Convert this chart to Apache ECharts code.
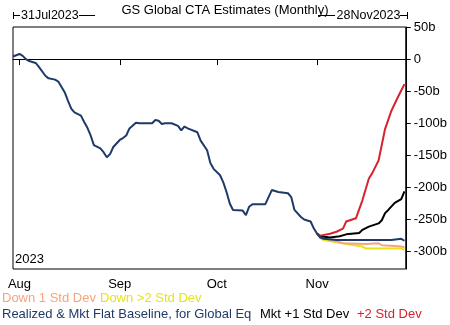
<!DOCTYPE html>
<html>
<head>
<meta charset="utf-8">
<script src="https://cdn.jsdelivr.net/npm/echarts@6/dist/echarts.min.js"></script>
<style>
  html, body { margin: 0; padding: 0; background: #fff; }
  #chart { width: 450px; height: 325px; }
</style>
</head>
<body>
<div id="chart"></div>
<script>
// realized path (navy)
const realizedDates = [
  '2023-07-30', '2023-07-31', '2023-08-01', '2023-08-02', '2023-08-03', '2023-08-04', '2023-08-06',
  '2023-08-07', '2023-08-09', '2023-08-10', '2023-08-12', '2023-08-13', '2023-08-15', '2023-08-16',
  '2023-08-17', '2023-08-18', '2023-08-20', '2023-08-21', '2023-08-22', '2023-08-23', '2023-08-24',
  '2023-08-26', '2023-08-27', '2023-08-28', '2023-08-29', '2023-08-30', '2023-09-01', '2023-09-02',
  '2023-09-03', '2023-09-04', '2023-09-06', '2023-09-07', '2023-09-11', '2023-09-12', '2023-09-13',
  '2023-09-14', '2023-09-15', '2023-09-17', '2023-09-19', '2023-09-20', '2023-09-21', '2023-09-22',
  '2023-09-25', '2023-09-26', '2023-09-28', '2023-09-29', '2023-09-30', '2023-10-02', '2023-10-03',
  '2023-10-04', '2023-10-05', '2023-10-06', '2023-10-09', '2023-10-10', '2023-10-11', '2023-10-12',
  '2023-10-16', '2023-10-17', '2023-10-18', '2023-10-20', '2023-10-23', '2023-10-24', '2023-10-25',
  '2023-10-27', '2023-10-28', '2023-10-30', '2023-10-31', '2023-11-01', '2023-11-02', '2023-11-03',
  '2023-11-07', '2023-11-16', '2023-11-24', '2023-11-27', '2023-11-28'
]
const realizedValues = [
  4, 6, 8, 5, 0, -3, -6,
  -12, -26, -30, -32, -35, -52, -65,
  -77, -83, -88, -98, -107, -119, -134,
  -139, -145, -153, -148, -137, -126, -123,
  -119, -108, -99, -100, -100, -95, -96,
  -101, -100, -100, -104, -111, -105, -108,
  -114, -127, -142, -162, -171, -181, -192,
  -207, -225, -235, -236, -243, -230, -226,
  -226, -215, -204, -207, -209, -215, -235,
  -246, -250, -253, -264, -272, -278, -280,
  -282, -282, -282, -280, -283
]

// scenario paths from 1 Nov
const up1Dates = ['2023-11-01', '2023-11-02', '2023-11-05', '2023-11-08', '2023-11-10', '2023-11-14', '2023-11-15', '2023-11-17', '2023-11-20', '2023-11-21', '2023-11-22', '2023-11-23', '2023-11-25', '2023-11-27', '2023-11-28']
const up1Values = [-272, -276, -278, -276, -273, -271, -266, -261, -256, -251, -240, -235, -224, -218, -206]

const up2Dates = ['2023-11-01', '2023-11-02', '2023-11-05', '2023-11-07', '2023-11-09', '2023-11-10', '2023-11-13', '2023-11-15', '2023-11-17', '2023-11-18', '2023-11-20', '2023-11-22', '2023-11-24', '2023-11-26', '2023-11-27', '2023-11-28']
const up2Values = [-272, -275, -272, -269, -264, -253, -248, -220, -186, -178, -158, -109, -80, -59, -49, -39]

const down1Dates = ['2023-11-01', '2023-11-02', '2023-11-07', '2023-11-09', '2023-11-16', '2023-11-20', '2023-11-21', '2023-11-25', '2023-11-27', '2023-11-28']
const down1Values = [-272, -278, -284, -287, -288, -287, -290, -291, -292, -293]

const down2Dates = ['2023-11-01', '2023-11-02', '2023-11-03', '2023-11-09', '2023-11-11', '2023-11-15', '2023-11-16', '2023-11-21', '2023-11-27', '2023-11-28']
const down2Values = [-272, -279, -282, -287, -289, -292, -295, -295, -295, -297]

const monthTicks = ['2023-08-01', '2023-09-01', '2023-10-01', '2023-11-01']
const monthLabels = ['Aug', 'Sep', 'Oct', 'Nov']
const yTicks = [50, 0, -50, -100, -150, -200, -250, -300]

const FONT = 'Liberation Sans, Arial, sans-serif'
const DAY = 24 * 3600 * 1000
const toTs = (s) => {
  const [y, m, d] = s.split('-').map(Number)
  return Date.UTC(y, m - 1, d)
}
const zip = (dates, vals) => dates.map((d, i) => [toTs(d), vals[i]])
const monthTs = monthTicks.map(toTs)

const chart = echarts.init(document.getElementById('chart'))

const line = (name, color, dates, vals, z) => ({
  name,
  type: 'line',
  data: zip(dates, vals),
  showSymbol: false,
  symbol: 'none',
  z,
  lineStyle: { color, width: 2 },
  itemStyle: { color },
})

const option = {
  animation: false,
  grid: {
    left: 13, right: 42, top: 27, bottom: 56,
    show: true, borderColor: '#000', borderWidth: 1,
  },
  xAxis: {
    type: 'value',
    min: toTs('2023-07-30'),
    max: toTs('2023-11-28') + 0.4 * DAY,
    splitLine: { show: false },
    axisLine: { lineStyle: { color: '#000' } },
    axisTick: { show: true, length: 6, lineStyle: { color: '#000' }, customValues: monthTs },
    axisLabel: {
      customValues: monthTs,
      color: '#000', fontFamily: FONT, fontSize: 13, margin: 9,
      formatter: (v) => {
        const i = monthTs.indexOf(v)
        return i >= 0 ? monthLabels[i] : ''
      },
    },
  },
  yAxis: {
    type: 'value',
    position: 'right',
    min: -327,
    max: 50,
    splitLine: { show: false },
    axisLine: { show: true, lineStyle: { color: '#000' } },
    axisTick: { show: true, length: 5, lineStyle: { color: '#000' }, customValues: yTicks },
    axisLabel: {
      customValues: yTicks,
      color: '#000', fontFamily: FONT, fontSize: 13, margin: 8,
      formatter: (v) => (v === 0 ? '0' : v + 'b'),
    },
  },
  series: [
    line('Down >2 Std Dev', '#e4e41a', down2Dates, down2Values, 2),
    line('Down 1 Std Dev', '#fba27a', down1Dates, down1Values, 3),
    line('Mkt +1 Std Dev', '#000000', up1Dates, up1Values, 4),
    line('+2 Std Dev', '#d6232c', up2Dates, up2Values, 5),
    {
      ...line('Realized & Mkt Flat Baseline, for Global Eq', '#1f3a6a', realizedDates, realizedValues, 6),
      markLine: {
        silent: true,
        symbol: 'none',
        label: { show: false },
        lineStyle: { color: '#000', width: 1, type: 'solid' },
        data: [{ yAxis: 0 }],
      },
    },
  ],
  graphic: [
    // title + date range bracket
    { type: 'text', left: 'center', top: 4, style: { text: 'GS Global CTA Estimates (Monthly)', font: '13px ' + FONT, fill: '#000' } },
    { type: 'line', shape: { x1: 13.5, y1: 12, x2: 13.5, y2: 19 }, style: { stroke: '#000', lineWidth: 1 } },
    { type: 'line', shape: { x1: 13, y1: 15.5, x2: 20, y2: 15.5 }, style: { stroke: '#000', lineWidth: 1 } },
    { type: 'text', x: 21, y: 9, style: { text: '31Jul2023', font: '12.5px ' + FONT, fill: '#000' } },
    { type: 'line', shape: { x1: 79, y1: 15.5, x2: 95, y2: 15.5 }, style: { stroke: '#000', lineWidth: 1 } },
    { type: 'line', shape: { x1: 318, y1: 15.5, x2: 335, y2: 15.5 }, style: { stroke: '#000', lineWidth: 1 } },
    { type: 'text', x: 336.5, y: 9, style: { text: '28Nov2023', font: '12.5px ' + FONT, fill: '#000' } },
    { type: 'line', shape: { x1: 400, y1: 15.5, x2: 407.5, y2: 15.5 }, style: { stroke: '#000', lineWidth: 1 } },
    { type: 'line', shape: { x1: 407.5, y1: 12, x2: 407.5, y2: 19 }, style: { stroke: '#000', lineWidth: 1 } },
    // year stamp inside plot
    { type: 'text', x: 15, y: 253, style: { text: '2023', font: '13px ' + FONT, fill: '#000' } },
    // coloured legend rows
    { type: 'text', x: 2, y: 292, style: { text: 'Down 1 Std Dev', font: '13px ' + FONT, fill: '#fba27a' } },
    { type: 'text', x: 100, y: 292, style: { text: 'Down >2 Std Dev', font: '13px ' + FONT, fill: '#e4e41a' } },
    { type: 'text', x: 2, y: 308, style: { text: 'Realized & Mkt Flat Baseline, for Global Eq', font: '13px ' + FONT, fill: '#1f3a6a' } },
    { type: 'text', x: 260, y: 308, style: { text: 'Mkt +1 Std Dev', font: '13px ' + FONT, fill: '#000' } },
    { type: 'text', x: 357, y: 308, style: { text: '+2 Std Dev', font: '13px ' + FONT, fill: '#d6232c' } },
  ],
}

chart.setOption(option)
</script>
</body>
</html>
